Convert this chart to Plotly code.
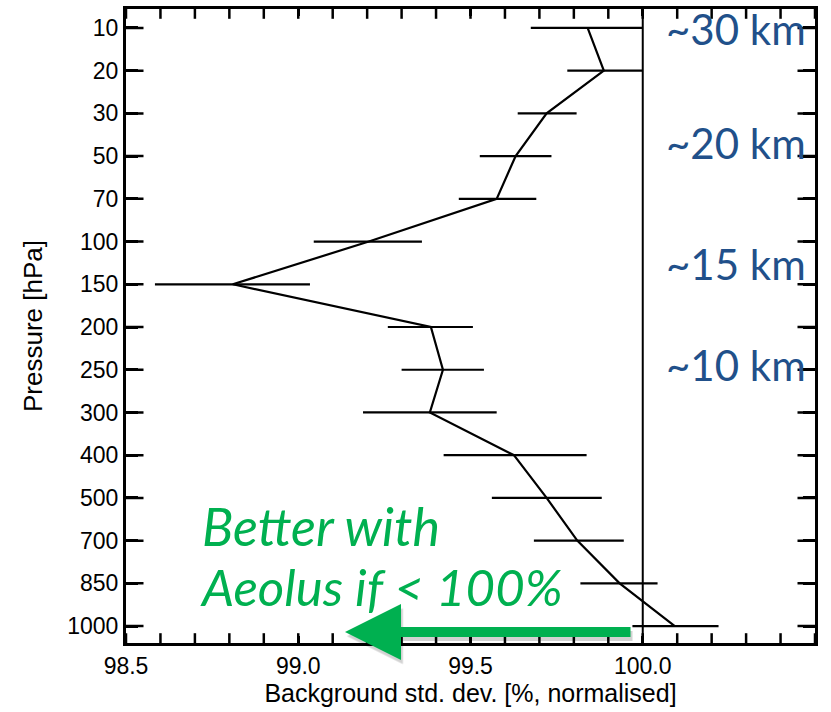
import plotly.graph_objects as go

# ---- data ----
levels = ["10", "20", "30", "50", "70", "100", "150", "200", "250", "300",
          "400", "500", "700", "850", "1000"]
std_dev = [99.840, 99.887, 99.721, 99.631, 99.576, 99.205, 98.810, 99.385,
           99.420, 99.382, 99.626, 99.721, 99.810, 99.933, 100.093]
err_low = [99.675, 99.781, 99.637, 99.527, 99.466, 99.045, 98.584, 99.260,
           99.300, 99.188, 99.422, 99.562, 99.684, 99.819, 99.970]
err_high = [100.000, 100.000, 99.808, 99.735, 99.691, 99.359, 99.034, 99.507,
            99.539, 99.576, 99.837, 99.881, 99.945, 100.043, 100.220]
x_range = [98.5, 100.5]
x_major_step = 0.5
x_minor_step = 0.1
altitude_labels = ["~30 km", "~20 km", "~15 km", "~10 km"]
altitude_pix_y = [26, 141, 262, 364]

W, H = 831, 712
L, R, T, B = 126, 16, 6, 69
pw, ph = W - L - R, H - T - B


def px(x):
    return (x - L) / pw


def py(y):
    return 1 - (y - T) / ph


plus = [h - m for h, m in zip(err_high, std_dev)]
minus = [m - lo for m, lo in zip(std_dev, err_low)]

fig = go.Figure()
fig.add_trace(go.Scatter(
    x=std_dev, y=levels, mode="lines",
    line=dict(color="black", width=2.2),
    error_x=dict(type="data", symmetric=False, array=plus, arrayminus=minus,
                 color="black", thickness=2.2, width=0),
    showlegend=False,
))

# inward tick marks on all four sides of the frame (markers clipped at the frame)
n_minor = int(round((x_range[1] - x_range[0]) / x_minor_step))
x_tick_pos = [round(x_range[0] + i * x_minor_step, 2) for i in range(n_minor + 1)]
fig.add_trace(go.Scatter(
    x=x_tick_pos * 2, y=[0] * len(x_tick_pos) + [1] * len(x_tick_pos),
    xaxis="x", yaxis="y2", mode="markers", cliponaxis=True,
    marker=dict(symbol="line-ns", size=14, color="black",
                line=dict(width=2.5, color="black")),
    showlegend=False, hoverinfo="skip",
))
fig.add_trace(go.Scatter(
    x=[0] * len(levels) + [1] * len(levels), y=levels * 2,
    xaxis="x2", yaxis="y", mode="markers", cliponaxis=True,
    marker=dict(symbol="line-ew", size=25, color="black",
                line=dict(width=2.5, color="black")),
    showlegend=False, hoverinfo="skip",
))

fig.add_shape(type="line", xref="x", yref="paper", x0=100.0, x1=100.0,
              y0=0, y1=1, opacity=1, line=dict(color="black", width=2))

annotations = []
for lab, yy in zip(altitude_labels, altitude_pix_y):
    annotations.append(dict(
        text=lab, xref="paper", yref="paper", x=px(664), y=py(yy),
        xanchor="left", yanchor="middle", showarrow=False,
        font=dict(family="Lato", size=42, color="#21508a")))

annotations.append(dict(
    text="Better with", xref="paper", yref="paper", x=px(200), y=py(525),
    xanchor="left", yanchor="middle", showarrow=False,
    font=dict(family="Lato", size=52, color="#00b050", style="italic")))
annotations.append(dict(
    text="Aeolus if < 100%", xref="paper", yref="paper", x=px(198), y=py(586),
    xanchor="left", yanchor="middle", showarrow=False,
    font=dict(family="Lato", size=51, color="#00b050", style="italic")))

# arrow shadow and arrow
for col, dx, dy in [("rgba(0,0,0,0.18)", 2, 4), ("#00b050", 0, 0)]:
    annotations.append(dict(
        text="", xref="paper", yref="paper", x=px(345 + dx), y=py(632 + dy),
        ax=287, ay=0, axref="pixel", ayref="pixel",
        showarrow=True, arrowhead=2, arrowsize=1.12, arrowwidth=10,
        arrowcolor=col, standoff=0))

fig.update_layout(
    template="simple_white",
    width=W, height=H,
    margin=dict(l=L, r=R, t=T, b=B),
    font=dict(family="Liberation Sans", size=23, color="black"),
    annotations=annotations,
    xaxis=dict(
        range=x_range, tickmode="linear", tick0=x_range[0], dtick=x_major_step,
        tickformat=".1f",
        ticks="inside", ticklen=7, tickwidth=2.5, tickcolor="black",
        showline=True, linewidth=3, linecolor="black", mirror="ticks",
        title=dict(text="Background std. dev. [%, normalised]",
                   font=dict(size=25), standoff=6),
    ),
    yaxis=dict(
        type="category", categoryorder="array", categoryarray=levels,
        range=[14.396, -0.443],
        ticks="inside", ticklen=12, tickwidth=2.5, tickcolor="black",
        showline=True, linewidth=3, linecolor="black", mirror="ticks",
        title=dict(text="Pressure [hPa]", font=dict(size=26), standoff=18),
    ),
    xaxis2=dict(overlaying="x", range=[0, 1], visible=False),
    yaxis2=dict(overlaying="y", range=[0, 1], visible=False),
)

fig.write_html("out.html")
